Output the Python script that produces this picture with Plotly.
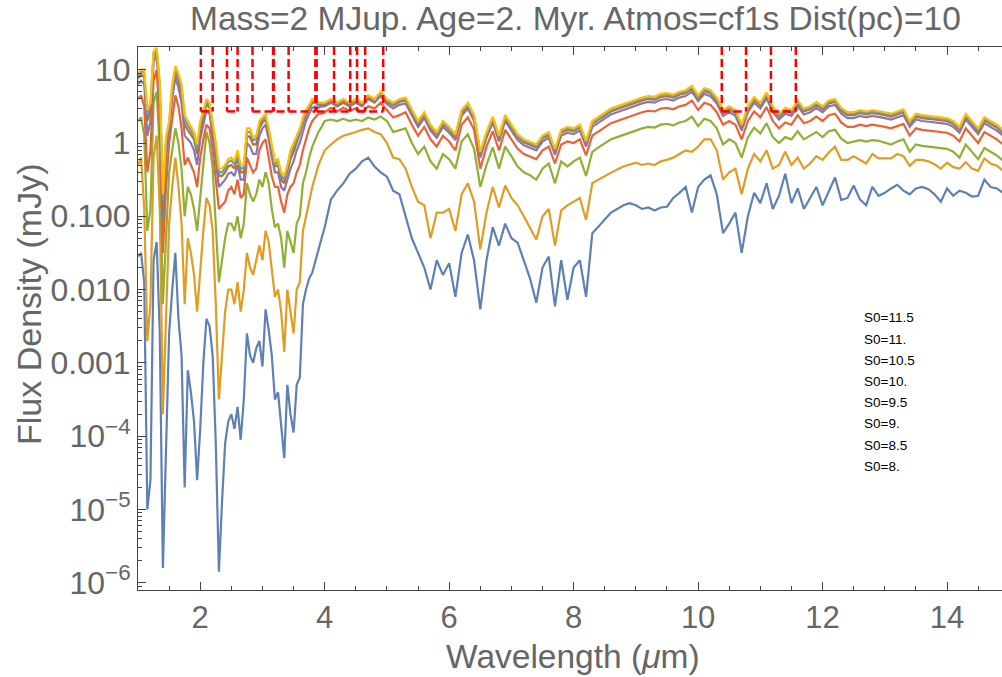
import plotly.graph_objects as go

# ---------------- data (log10 of flux density in mJy) ----------------
wavelength = [
    1.00, 1.05, 1.10, 1.15, 1.20, 1.25, 1.30, 1.35, 1.40, 1.45,
    1.50, 1.55, 1.60, 1.65, 1.70, 1.75, 1.80, 1.85, 1.90, 1.95,
    2.00, 2.05, 2.10, 2.15, 2.20, 2.25, 2.30, 2.35, 2.40, 2.45,
    2.50, 2.55, 2.60, 2.65, 2.70, 2.75, 2.80, 2.85, 2.90, 2.95,
    3.00, 3.05, 3.10, 3.15, 3.20, 3.25, 3.30, 3.35, 3.40, 3.45,
    3.50, 3.55, 3.60, 3.65, 3.70, 3.75, 3.80, 3.85, 3.90, 3.95,
    4.00,
    4.1, 4.2, 4.3, 4.4, 4.5, 4.6, 4.7, 4.8, 4.9,
    5.0, 5.1, 5.2, 5.3, 5.4, 5.5, 5.6, 5.7, 5.8, 5.9,
    6.0, 6.1, 6.2, 6.3, 6.4, 6.5, 6.6, 6.7, 6.8, 6.9,
    7.0, 7.1, 7.2, 7.3, 7.4, 7.5, 7.6, 7.7, 7.8, 7.9,
    8.0, 8.1, 8.2, 8.3, 8.4, 8.5, 8.6, 8.7, 8.8, 8.9,
    9.0, 9.1, 9.2, 9.3, 9.4, 9.5, 9.6, 9.7, 9.8, 9.9,
    10.0, 10.1, 10.2, 10.3, 10.4, 10.5, 10.6, 10.7, 10.8, 10.9,
    11.0, 11.1, 11.2, 11.3, 11.4, 11.5, 11.6, 11.7, 11.8, 11.9,
    12.0, 12.1, 12.2, 12.3, 12.4, 12.5, 12.6, 12.7, 12.8, 12.9,
    13.0, 13.1, 13.2, 13.3, 13.4, 13.5, 13.6, 13.7, 13.8, 13.9,
    14.0, 14.1, 14.2, 14.3, 14.4, 14.5, 14.6, 14.7, 14.8, 14.9,
]

log_s8_0 = [
    -1.55, -1.5, -1.9, -5.0, -4.6, -1.6, -1.35, -2.6, -5.8, -4.0,
    -2.6, -2.0, -1.5, -2.4, -2.9, -4.7, -3.1, -3.4, -3.8, -4.6,
    -3.9, -3.0, -2.4, -2.5, -2.9, -4.1, -5.85, -4.9, -4.1, -3.8,
    -3.7, -3.9, -3.6, -4.05, -3.5, -2.6, -2.9, -3.0, -2.8, -2.7,
    -3.05, -2.27, -2.55, -2.9, -3.5, -3.4, -3.9, -4.3, -3.3, -3.7,
    -3.95, -3.3, -3.2, -2.2, -2.0, -1.85, -1.77, -1.6, -1.45, -1.3,
    -1.15,
    -0.77, -0.65, -0.55, -0.42, -0.35, -0.25, -0.2, -0.32, -0.4,
    -0.46, -0.65, -0.7, -1.0, -1.3, -1.5, -1.7, -2.0, -1.6, -1.8,
    -1.64, -2.1, -1.5, -1.25, -1.6, -2.27, -1.6, -1.15, -1.4, -1.1,
    -1.3, -1.36, -1.6, -1.85, -2.18, -1.7, -1.55, -2.23, -1.6, -2.14,
    -1.7, -1.6, -2.1, -1.23, -1.14, -1.05, -0.95, -0.9, -0.85, -0.82,
    -0.85, -0.9, -0.88, -0.92, -0.88, -0.87, -0.75, -0.68, -0.6, -0.95,
    -0.6, -0.5, -0.44, -0.7, -1.23, -1.1, -0.95, -1.5, -1.0, -0.68,
    -0.82, -0.55, -0.9, -0.72, -0.42, -0.82, -0.62, -0.9, -0.75, -0.6,
    -0.85, -0.65, -0.47, -0.78, -0.75, -0.58, -0.77, -0.85, -0.6, -0.72,
    -0.68, -0.62, -0.57, -0.65, -0.7, -0.62, -0.6, -0.63, -0.7, -0.8,
    -0.62, -0.72, -0.65, -0.68, -0.73, -0.72, -0.5, -0.6, -0.62, -0.68,
]

log_s8_5 = [
    -0.3, -0.2, -0.9, -2.7, -2.2, -0.2, 0.1, -0.9, -3.7, -2.4,
    -1.1, -0.6, -0.2, -0.6, -1.1, -2.2, -1.3, -1.5, -1.8, -2.3,
    -1.7, -1.2, -0.75, -0.85, -1.2, -2.2, -3.5, -2.9, -2.3, -2.0,
    -2.0, -2.2, -1.9, -2.3, -2.0, -1.5, -1.7, -1.8, -1.6, -1.4,
    -1.6, -1.2, -1.35, -1.7, -2.1, -2.0, -2.3, -2.85, -2.0, -2.3,
    -2.6, -2.0, -1.9, -1.2, -1.0, -0.8, -0.6, -0.45, -0.3, -0.2,
    -0.1,
    -0.02, 0.05, 0.1, 0.12, 0.15, 0.18, 0.2, 0.15, 0.12,
    0.0, -0.2, -0.22, -0.35, -0.6, -0.8, -0.85, -1.3, -0.95, -0.95,
    -0.9, -1.2, -0.7, -0.55, -0.8, -1.45, -0.95, -0.6, -0.88, -0.58,
    -0.75, -0.85, -1.0, -1.15, -1.32, -1.0, -0.9, -1.4, -0.92, -0.85,
    -0.8, -0.75, -1.05, -0.55, -0.5, -0.45, -0.4, -0.36, -0.32, -0.3,
    -0.27, -0.3, -0.28, -0.3, -0.25, -0.23, -0.2, -0.15, -0.1, -0.12,
    -0.05, 0.05, 0.05, -0.1, -0.5, -0.4, -0.35, -0.7, -0.35, -0.15,
    -0.25, -0.1, -0.35, -0.3, -0.12, -0.3, -0.2, -0.35, -0.28, -0.18,
    -0.23, -0.13, -0.05, -0.23, -0.23, -0.18, -0.23, -0.28, -0.15, -0.21,
    -0.21, -0.21, -0.15, -0.18, -0.31, -0.23, -0.23, -0.25, -0.29, -0.35,
    -0.27, -0.33, -0.35, -0.26, -0.35, -0.38, -0.21, -0.28, -0.31, -0.38,
]

log_s9_0 = [
    0.3, 0.35, 0.1, -1.2, -0.9, 0.55, 0.7, -0.1, -2.2, -1.3,
    -0.4, -0.1, 0.2, 0.0, -0.35, -1.0, -0.6, -0.7, -0.9, -1.2,
    -0.7, -0.3, 0.15, 0.0, -0.35, -1.1, -1.9, -1.6, -1.3, -1.1,
    -1.1, -1.2, -1.0, -1.3, -1.1, -0.55, -0.7, -0.8, -0.7, -0.5,
    -0.6, -0.4, -0.55, -0.9, -1.15, -1.1, -1.3, -1.7, -1.2, -1.35,
    -1.5, -1.1, -1.0, -0.55, -0.4, -0.2, -0.05, 0.05, 0.15, 0.22,
    0.3,
    0.32, 0.3, 0.33, 0.3, 0.32, 0.3, 0.35, 0.32, 0.36,
    0.3, 0.15, 0.18, 0.2, 0.0, -0.15, -0.05, -0.25, -0.35, -0.15,
    -0.22, -0.35, 0.02, 0.12, -0.08, -0.6, -0.3, -0.06, -0.35, -0.05,
    -0.18, -0.32, -0.4, -0.44, -0.5, -0.35, -0.28, -0.55, -0.25, -0.32,
    -0.25, -0.2, -0.45, -0.12, -0.06, 0.0, 0.05, 0.08, 0.11, 0.15,
    0.18, 0.2, 0.22, 0.21, 0.25, 0.26, 0.24, 0.28, 0.3, 0.36,
    0.23, 0.33, 0.3, 0.2, -0.02, 0.05, 0.0, -0.2, 0.08, 0.21,
    0.13, 0.27, 0.08, 0.0, 0.08, 0.05, 0.16, 0.05, 0.1, 0.15,
    0.08, 0.16, 0.18, 0.06, 0.0, 0.02, 0.04, 0.02, 0.04, 0.03,
    0.0, -0.02, 0.02, 0.05, -0.12, -0.02, -0.04, -0.05, -0.06, -0.08,
    -0.08, -0.12, -0.2, -0.02, -0.12, -0.22, -0.07, -0.12, -0.17, -0.24,
]

log_s9_5 = [
    0.6, 0.65, 0.5, -0.4, -0.1, 0.85, 1.0, 0.3, -1.5, -0.6,
    0.0, 0.35, 0.65, 0.5, 0.2, -0.3, -0.2, -0.3, -0.4, -0.6,
    -0.2, 0.05, 0.25, 0.2, -0.1, -0.5, -0.9, -0.85, -0.8, -0.65,
    -0.6, -0.7, -0.5, -0.75, -0.7, -0.2, -0.3, -0.4, -0.35, -0.1,
    0.0, 0.05, -0.2, -0.45, -0.6, -0.6, -0.8, -0.95, -0.7, -0.6,
    -0.55, -0.4, -0.3, -0.1, 0.05, 0.2, 0.3, 0.35, 0.4, 0.4,
    0.42,
    0.48, 0.43, 0.48, 0.44, 0.47, 0.43, 0.5, 0.47, 0.55,
    0.45, 0.35, 0.38, 0.42, 0.25, 0.1, 0.22, 0.05, -0.05, 0.1,
    0.02, -0.1, 0.25, 0.35, 0.18, -0.35, -0.05, 0.16, -0.1, 0.18,
    0.05, -0.08, -0.15, -0.18, -0.22, -0.1, -0.05, -0.28, -0.02, 0.02,
    0.0, 0.05, -0.17, 0.1, 0.16, 0.22, 0.27, 0.3, 0.33, 0.37,
    0.4, 0.42, 0.44, 0.43, 0.47, 0.48, 0.46, 0.5, 0.52, 0.58,
    0.45, 0.55, 0.52, 0.42, 0.25, 0.3, 0.25, 0.05, 0.3, 0.43,
    0.35, 0.49, 0.3, 0.2, 0.28, 0.25, 0.38, 0.27, 0.3, 0.36,
    0.3, 0.38, 0.4, 0.28, 0.22, 0.22, 0.25, 0.23, 0.25, 0.24,
    0.22, 0.2, 0.23, 0.26, 0.1, 0.2, 0.18, 0.17, 0.16, 0.15,
    0.14, 0.1, 0.02, 0.2, 0.1, 0.0, 0.15, 0.1, 0.05, -0.02,
]

log_s10_0 = [
    0.8, 0.85, 0.8, 0.1, 0.3, 1.1, 1.2, 0.6, -1.05, -0.2,
    0.15, 0.6, 0.9, 0.75, 0.55, 0.1, 0.05, 0.0, -0.1, -0.3,
    0.05, 0.25, 0.45, 0.4, 0.1, -0.25, -0.6, -0.55, -0.5, -0.42,
    -0.4, -0.45, -0.3, -0.5, -0.5, 0.0, -0.05, -0.15, -0.15, 0.1,
    0.2, 0.25, 0.05, -0.2, -0.4, -0.4, -0.6, -0.65, -0.5, -0.35,
    -0.25, -0.1, 0.0, 0.15, 0.3, 0.4, 0.48, 0.5, 0.48, 0.5,
    0.5,
    0.55, 0.5, 0.55, 0.5, 0.55, 0.5, 0.6, 0.55, 0.64,
    0.53, 0.47, 0.52, 0.54, 0.37, 0.22, 0.34, 0.17, 0.07, 0.22,
    0.14, 0.04, 0.37, 0.47, 0.3, -0.2, 0.07, 0.28, 0.02, 0.3,
    0.17, 0.04, -0.03, -0.06, -0.1, 0.02, 0.07, -0.16, 0.1, 0.14,
    0.12, 0.17, -0.05, 0.22, 0.28, 0.34, 0.39, 0.42, 0.45, 0.49,
    0.52, 0.54, 0.56, 0.55, 0.59, 0.6, 0.58, 0.62, 0.64, 0.7,
    0.57, 0.67, 0.64, 0.54, 0.37, 0.42, 0.37, 0.17, 0.42, 0.55,
    0.47, 0.61, 0.42, 0.32, 0.4, 0.37, 0.5, 0.39, 0.42, 0.48,
    0.42, 0.5, 0.52, 0.4, 0.34, 0.34, 0.37, 0.35, 0.37, 0.36,
    0.34, 0.32, 0.35, 0.38, 0.22, 0.32, 0.3, 0.29, 0.28, 0.27,
    0.26, 0.22, 0.14, 0.32, 0.22, 0.12, 0.27, 0.22, 0.17, 0.1,
]

log_s10_5 = [
    0.88, 0.93, 0.9, 0.3, 0.45, 1.18, 1.25, 0.72, -0.88, -0.05,
    0.22, 0.7, 0.98, 0.85, 0.68, 0.25, 0.18, 0.12, 0.05, -0.15,
    0.18, 0.35, 0.53, 0.48, 0.2, -0.12, -0.45, -0.45, -0.4, -0.32,
    -0.3, -0.35, -0.2, -0.4, -0.4, 0.1, 0.08, -0.02, -0.02, 0.2,
    0.28, 0.32, 0.12, -0.1, -0.32, -0.3, -0.5, -0.55, -0.4, -0.22,
    -0.12, 0.0, 0.1, 0.25, 0.38, 0.47, 0.55, 0.55, 0.52, 0.52,
    0.52,
    0.57, 0.52, 0.57, 0.52, 0.57, 0.52, 0.62, 0.57, 0.67,
    0.56, 0.51, 0.56, 0.58, 0.41, 0.26, 0.38, 0.21, 0.11, 0.26,
    0.18, 0.08, 0.41, 0.51, 0.34, -0.16, 0.11, 0.32, 0.06, 0.34,
    0.21, 0.08, 0.01, -0.02, -0.06, 0.06, 0.11, -0.12, 0.14, 0.18,
    0.16, 0.21, -0.01, 0.26, 0.32, 0.38, 0.43, 0.46, 0.49, 0.53,
    0.56, 0.58, 0.6, 0.59, 0.63, 0.64, 0.62, 0.66, 0.68, 0.74,
    0.61, 0.71, 0.68, 0.58, 0.41, 0.46, 0.41, 0.21, 0.46, 0.59,
    0.51, 0.65, 0.46, 0.36, 0.44, 0.41, 0.54, 0.43, 0.46, 0.52,
    0.46, 0.54, 0.56, 0.44, 0.38, 0.38, 0.41, 0.39, 0.41, 0.4,
    0.38, 0.36, 0.39, 0.42, 0.26, 0.36, 0.34, 0.33, 0.32, 0.31,
    0.3, 0.26, 0.18, 0.36, 0.26, 0.16, 0.31, 0.26, 0.21, 0.14,
]

log_s11_0 = [
    0.92, 0.98, 0.96, 0.38, 0.5, 1.22, 1.28, 0.78, -0.78, 0.02,
    0.26, 0.75, 1.02, 0.9, 0.75, 0.32, 0.25, 0.18, 0.1, -0.08,
    0.25, 0.4, 0.57, 0.52, 0.25, -0.06, -0.4, -0.4, -0.34, -0.26,
    -0.24, -0.29, -0.14, -0.35, -0.34, 0.15, 0.15, 0.04, 0.05, 0.25,
    0.32, 0.36, 0.17, -0.05, -0.28, -0.25, -0.45, -0.5, -0.34, -0.15,
    -0.05, 0.05, 0.15, 0.3, 0.42, 0.5, 0.58, 0.57, 0.54, 0.54,
    0.54,
    0.59, 0.54, 0.59, 0.54, 0.59, 0.54, 0.64, 0.59, 0.69,
    0.58, 0.53, 0.58, 0.6, 0.43, 0.28, 0.4, 0.23, 0.13, 0.28,
    0.2, 0.1, 0.43, 0.53, 0.36, -0.14, 0.13, 0.34, 0.08, 0.36,
    0.23, 0.1, 0.03, 0.0, -0.04, 0.08, 0.13, -0.1, 0.16, 0.2,
    0.18, 0.23, 0.01, 0.28, 0.34, 0.4, 0.45, 0.48, 0.51, 0.55,
    0.58, 0.6, 0.62, 0.61, 0.65, 0.66, 0.64, 0.68, 0.7, 0.76,
    0.63, 0.73, 0.7, 0.6, 0.43, 0.48, 0.43, 0.23, 0.48, 0.61,
    0.53, 0.67, 0.48, 0.38, 0.46, 0.43, 0.56, 0.45, 0.48, 0.54,
    0.48, 0.56, 0.58, 0.46, 0.4, 0.4, 0.43, 0.41, 0.43, 0.42,
    0.4, 0.38, 0.41, 0.44, 0.28, 0.38, 0.36, 0.35, 0.34, 0.33,
    0.32, 0.28, 0.2, 0.38, 0.28, 0.18, 0.33, 0.28, 0.23, 0.16,
]

log_s11_5 = [
    0.95, 1.0, 1.0, 0.45, 0.55, 1.25, 1.3, 0.82, -0.7, 0.08,
    0.3, 0.8, 1.05, 0.95, 0.8, 0.38, 0.3, 0.22, 0.15, -0.02,
    0.3, 0.45, 0.6, 0.55, 0.3, 0.0, -0.35, -0.35, -0.3, -0.22,
    -0.2, -0.25, -0.1, -0.3, -0.3, 0.2, 0.2, 0.08, 0.1, 0.3,
    0.35, 0.4, 0.2, 0.0, -0.25, -0.22, -0.4, -0.45, -0.3, -0.1,
    0.0, 0.1, 0.2, 0.35, 0.45, 0.52, 0.6, 0.58, 0.55, 0.55,
    0.55,
    0.6, 0.55, 0.6, 0.55, 0.6, 0.55, 0.65, 0.6, 0.7,
    0.6, 0.55, 0.6, 0.62, 0.45, 0.3, 0.42, 0.25, 0.15, 0.3,
    0.22, 0.12, 0.45, 0.55, 0.38, -0.12, 0.15, 0.36, 0.1, 0.38,
    0.25, 0.12, 0.05, 0.02, -0.02, 0.1, 0.15, -0.08, 0.18, 0.22,
    0.2, 0.25, 0.03, 0.3, 0.36, 0.42, 0.47, 0.5, 0.53, 0.57,
    0.6, 0.62, 0.64, 0.63, 0.67, 0.68, 0.66, 0.7, 0.72, 0.78,
    0.65, 0.75, 0.72, 0.62, 0.45, 0.5, 0.45, 0.25, 0.5, 0.63,
    0.55, 0.69, 0.5, 0.4, 0.48, 0.45, 0.58, 0.47, 0.5, 0.56,
    0.5, 0.58, 0.6, 0.48, 0.42, 0.42, 0.45, 0.43, 0.45, 0.44,
    0.42, 0.4, 0.43, 0.46, 0.3, 0.4, 0.38, 0.37, 0.36, 0.35,
    0.34, 0.3, 0.22, 0.4, 0.3, 0.2, 0.35, 0.3, 0.25, 0.18,
]

series_names = ["S0=8.", "S0=8.5", "S0=9.", "S0=9.5", "S0=10.", "S0=10.5", "S0=11.", "S0=11.5"]
series_logs = [log_s8_0, log_s8_5, log_s9_0, log_s9_5, log_s10_0, log_s10_5, log_s11_0, log_s11_5]
series_colors = ["#5E81B5", "#E19C24", "#8FB032", "#EB6235", "#8778B3", "#C56E1A", "#5D9EC7", "#FFBF00"]

for s in series_logs:
    assert len(s) == len(wavelength), (len(s), len(wavelength))

# filter band boxes (wavelength start, end) in micron
band_starts = [2.01, 2.43, 2.84, 3.18, 3.42, 3.87, 4.15, 4.52, 4.65, 10.38, 11.17]
band_ends = [2.20, 2.60, 3.17, 3.42, 3.85, 4.41, 4.41, 4.65, 4.94, 10.77, 11.57]
band_floor = 2.7       # mJy

y_log_range = [-6.1, 1.31]
y_tick_vals = [10, 1, 0.1, 0.01, 0.001, 1e-4, 1e-5, 1e-6]
y_tick_text = ["10", "1", "0.100", "0.010", "0.001",
               "10<sup>\u22124</sup>", "10<sup>\u22125</sup>", "10<sup>\u22126</sup>"]
x_tick_vals = [2, 4, 6, 8, 10, 12, 14]

# ---------------- figure ----------------
fig = go.Figure()
for name, logs, color in zip(series_names, series_logs, series_colors):
    fig.add_trace(go.Scatter(
        x=wavelength, y=[10 ** v for v in logs], mode="lines", name=name,
        line=dict(color=color, width=2.2), showlegend=False, hoverinfo="skip",
    ))

# band boxes: each vertical edge drawn once (top of frame down to floor),
# bottoms drawn as merged intervals so the dashes never overlap
box_line = dict(color="#FF0000", width=2.5, dash="8px,4px")
band_top = 10 ** y_log_range[1]
for e in sorted(set(band_starts + band_ends)):
    fig.add_trace(go.Scatter(x=[e, e], y=[band_top, band_floor], mode="lines",
                             line=box_line, showlegend=False, hoverinfo="skip"))
merged = []
for a, b in sorted(zip(band_starts, band_ends)):
    if merged and a <= merged[-1][1] + 0.015:
        merged[-1][1] = max(merged[-1][1], b)
    else:
        merged.append([a, b])
for a, b in merged:
    fig.add_trace(go.Scatter(x=[a, b], y=[band_floor, band_floor], mode="lines",
                             line=box_line, showlegend=False, hoverinfo="skip"))

FONT = "Liberation Sans, Arial, Helvetica, sans-serif"
GREY = "#666666"
L, R, T, B = 138, 0, 47, 87
W, H = 1002, 677
pw, ph = W - L - R, H - T - B


def px_x(p):
    return (p - L) / pw


def px_y(p):
    return 1 - (p - T) / ph


minor_y = [m * 10.0 ** e for e in range(-7, 2) for m in range(2, 10)]

fig.update_layout(
    width=W, height=H,
    margin=dict(l=L, r=R, t=T, b=B, pad=0),
    paper_bgcolor="white", plot_bgcolor="white",
    font=dict(family=FONT, color=GREY),
    xaxis=dict(
        range=[1, 14.883], showgrid=False, zeroline=False,
        showline=True, linecolor="#444444", linewidth=1, mirror="ticks",
        ticks="inside", ticklen=8, tickwidth=1, tickcolor="#444444",
        tickvals=x_tick_vals, tickfont=dict(size=31, color=GREY, family=FONT),
        minor=dict(dtick=0.5, tick0=1, ticks="inside", ticklen=4, tickcolor="#444444"),
    ),
    yaxis=dict(
        type="log", range=y_log_range, showgrid=False, zeroline=False,
        showline=True, linecolor="#444444", linewidth=1, mirror=False,
        ticks="inside", ticklen=8, tickwidth=1, tickcolor="#444444",
        tickvals=y_tick_vals, ticktext=y_tick_text,
        tickfont=dict(size=32, color=GREY, family=FONT),
        minor=dict(tickvals=minor_y, ticks="inside", ticklen=4, tickcolor="#444444"),
    ),
)

annotations = [
    dict(text="Mass=2 MJup. Age=2. Myr. Atmos=cf1s Dist(pc)=10", x=px_x(575), y=px_y(19),
         font=dict(size=33.5, color=GREY, family=FONT)),
    dict(text="Wavelength (<i>\u03bc</i>m)", x=px_x(573), y=px_y(656),
         font=dict(size=33.5, color=GREY, family=FONT)),
    dict(text="Flux Density (mJy)", x=px_x(29), y=px_y(305), textangle=-90,
         font=dict(size=34, color=GREY, family=FONT)),
]
legend_y = [318, 339, 360, 381, 402, 423, 445, 466]
for name, py in zip(series_names[::-1], legend_y):
    annotations.append(dict(text=name, x=px_x(862), y=px_y(py), xanchor="left",
                            font=dict(size=13.5, color="black", family=FONT)))
for a in annotations:
    a.update(xref="paper", yref="paper", showarrow=False)
    a.setdefault("xanchor", "center")
    a.setdefault("yanchor", "middle")
fig.update_layout(annotations=annotations)

fig.write_html("out.html")
